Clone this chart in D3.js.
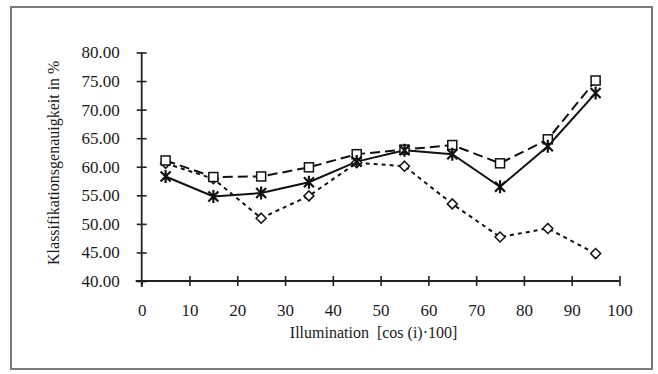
<!DOCTYPE html>
<html><head><meta charset="utf-8">
<script src="https://cdn.jsdelivr.net/npm/d3@7"></script>
<style>
body{margin:0;background:#fff;}
svg{display:block;}
svg text{font-family:'Liberation Serif','DejaVu Serif',serif !important;fill:#1a1a1a;}
</style></head>
<body>
<svg id="c" width="658" height="374"></svg>
<script>
const illumination = [5, 15, 25, 35, 45, 55, 65, 75, 85, 95];
const seriesSquare  = [61.1, 58.2, 58.3, 59.9, 62.2, 63.0, 63.8, 60.6, 64.8, 75.1];
const seriesStar    = [58.3, 54.8, 55.4, 57.3, 60.9, 62.9, 62.2, 56.5, 63.6, 72.9];
const seriesDiamond = [60.6, 57.9, 51.0, 54.9, 60.7, 60.1, 53.5, 47.7, 49.2, 44.8];
const xTicks = [0, 10, 20, 30, 40, 50, 60, 70, 80, 90, 100];
const yTicks = [40, 45, 50, 55, 60, 65, 70, 75, 80];
const xTitle = "Illumination\u00a0 [cos (i)\u00b7100]";
const yTitle = "Klassifikationsgenauigkeit in %";

const svg = d3.select("#c");
const x = d3.scaleLinear().domain([0, 100]).range([141.7, 619.5]);
const y = d3.scaleLinear().domain([40, 80]).range([281, 52.5]);

// frame
svg.append("rect").attr("x", 11).attr("y", 7).attr("width", 641).attr("height", 362)
  .attr("fill", "none").attr("stroke", "#7a7a7a").attr("stroke-width", 2);

// axes
const ya = svg.append("g").attr("transform", `translate(${x(0)},0)`)
  .call(d3.axisLeft(y).tickValues(yTicks).tickFormat(d3.format(".2f")).tickSize(5).tickSizeOuter(0).tickPadding(17));
ya.select(".domain").remove();
ya.attr("font-family", null).attr("font-size", null);
ya.selectAll(".tick line").attr("x1", -5).attr("x2", 5).attr("stroke", "#222").attr("stroke-width", 1.6);
ya.selectAll(".tick text").style("font-size", "17px").attr("fill", "#1a1a1a");

const xa = svg.append("g").attr("transform", `translate(0,${y(40)})`)
  .call(d3.axisBottom(x).tickValues(xTicks).tickFormat(d3.format("d")).tickSize(5).tickSizeOuter(0).tickPadding(18));
xa.select(".domain").remove();
xa.attr("font-family", null).attr("font-size", null);
xa.selectAll(".tick line").attr("y1", d => d === 0 ? 0 : -5).attr("y2", 5).attr("stroke", "#222").attr("stroke-width", 1.6);
xa.selectAll(".tick text").style("font-size", "17px").attr("fill", "#1a1a1a");

// axis lines
svg.append("line").attr("x1", x(0)).attr("x2", x(0)).attr("y1", y(80)).attr("y2", y(40) + 6)
  .attr("stroke", "#222").attr("stroke-width", 1.8);
svg.append("line").attr("x1", x(0) - 6).attr("x2", x(100)).attr("y1", y(40)).attr("y2", y(40))
  .attr("stroke", "#222").attr("stroke-width", 1.8);

// titles
svg.append("text").attr("x", (x(0) + x(100)) / 2 - 7).attr("y", 338)
  .attr("text-anchor", "middle").style("font-size", "16px").text(xTitle);
svg.append("text").attr("transform", `translate(59,${(y(40) + y(80)) / 2 - 4}) rotate(-90)`)
  .attr("text-anchor", "middle").style("font-size", "16px").text(yTitle);

// lines
const line = vals => d3.line().x((d, i) => x(illumination[i])).y(d => y(d))(vals);
svg.append("path").attr("d", line(seriesDiamond)).attr("fill", "none").attr("stroke", "#111")
  .attr("stroke-width", 2).attr("stroke-dasharray", "4,4");
svg.append("path").attr("d", line(seriesStar)).attr("fill", "none").attr("stroke", "#111")
  .attr("stroke-width", 2);
svg.append("path").attr("d", line(seriesSquare)).attr("fill", "none").attr("stroke", "#111")
  .attr("stroke-width", 2).attr("stroke-dasharray", "10,5");

// markers
svg.append("g").selectAll("path").data(seriesDiamond).join("path")
  .attr("transform", (d, i) => `translate(${x(illumination[i])},${y(d)})`)
  .attr("d", "M0,-5L5,0L0,5L-5,0Z").attr("fill", "#fff").attr("stroke", "#111").attr("stroke-width", 1.5);
svg.append("g").selectAll("rect").data(seriesSquare).join("rect")
  .attr("x", (d, i) => x(illumination[i]) - 4.5).attr("y", d => y(d) - 4.5)
  .attr("width", 9).attr("height", 9).attr("fill", "#fff").attr("stroke", "#111").attr("stroke-width", 1.5);
svg.append("g").selectAll("path").data(seriesStar).join("path")
  .attr("transform", (d, i) => `translate(${x(illumination[i])},${y(d)})`)
  .attr("d", "M-5,-5L5,5M-5,5L5,-5M0,-6.5L0,6.5").attr("fill", "none").attr("stroke", "#111").attr("stroke-width", 2.2);
</script>
</body></html>
